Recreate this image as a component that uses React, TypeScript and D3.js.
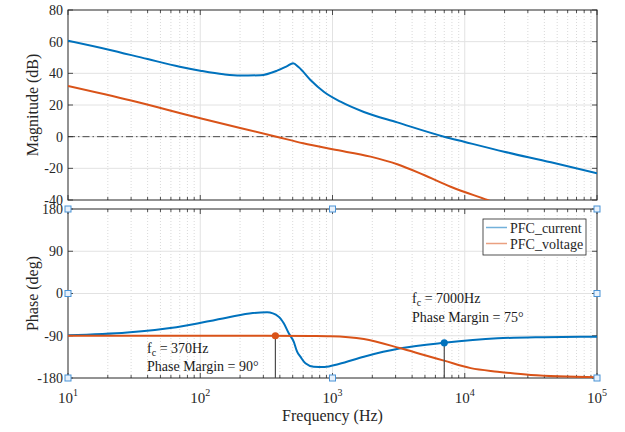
import React from 'react';
import * as d3 from 'd3';

// Axis ticks
const freqTicks = [10, 100, 1000, 10000, 100000];
const freqExponents = ['1', '2', '3', '4', '5'];
const magTicks = [80, 60, 40, 20, 0, -20, -40];
const phaseTicks = [180, 90, 0, -90, -180];

const seriesNames = ['PFC_current', 'PFC_voltage'];

// PFC current loop: magnitude (dB)
const currentMagFreq = [10, 20, 40, 70, 100, 150, 200, 285, 381, 454, 503, 556, 681, 859, 1150, 1727, 3090, 6970, 9880, 19860, 44900, 100000];
const currentMagDb = [60.6, 55.1, 49.0, 44.2, 41.7, 39.4, 38.6, 38.8, 41.7, 44.6, 46.4, 43.8, 35.8, 28.4, 22.1, 15.6, 9.0, 0, -3.2, -9.5, -16.2, -23.2];

// PFC voltage loop: magnitude (dB)
const voltageMagFreq = [10, 30, 100, 377, 600, 1000, 1941, 3090, 4920, 7830, 14860, 20000];
const voltageMagDb = [32.0, 22.8, 11.6, 0, -4.2, -8.0, -12.6, -17.4, -24.2, -31.6, -40, -44];

// PFC current loop: phase (deg)
const currentPhFreq = [10, 28, 66, 158, 250, 320, 392, 428, 467, 509, 540, 572, 624, 721, 870, 1117, 1726, 3273, 6970, 17700, 40000, 100000];
const currentPhDeg = [-89, -83, -72, -51.5, -41.5, -40, -49.4, -63.5, -84.8, -102.7, -124, -134.6, -148.7, -156, -156.5, -150, -134.6, -116.8, -105, -95.5, -93, -92];

// PFC voltage loop: phase (deg)
const voltagePhFreq = [10, 300, 700, 966, 1726, 3273, 4920, 6970, 11100, 17700, 31600, 100000];
const voltagePhDeg = [-90, -90, -90.5, -91, -97, -116.8, -131, -143, -159, -166.5, -173.6, -178.5];

// Crossover annotations
const crossFreq = [370, 7000];
const crossPhase = [-90, -105];
const crossLabel = ['370Hz', '7000Hz'];
const marginLabel = ['Phase Margin = 90°', 'Phase Margin = 75°'];

const BLUE = '#0072BD';
const ORANGE = '#D95319';
const AXIS = '#262626';
const FONT = "'Liberation Serif', 'Times New Roman', serif";

const W = 625;
const H = 432;
const L = 68;
const R = 597;
const MAG_TOP = 10;
const MAG_BOT = 200;
const PH_TOP = 209;
const PH_BOT = 378;

const x = d3.scaleLog().domain([10, 100000]).range([L, R]);
const yMag = d3.scaleLinear().domain([-40, 80]).range([MAG_BOT, MAG_TOP]);
const yPh = d3.scaleLinear().domain([-180, 180]).range([PH_BOT, PH_TOP]);

const minorFreqs: number[] = [];
[10, 100, 1000, 10000].forEach((d) => {
  for (let m = 2; m <= 9; m++) minorFreqs.push(d * m);
});

function pathFor(fs: number[], vs: number[], y: d3.ScaleLinear<number, number>) {
  const pts = fs.map((f, i) => [f, vs[i]] as [number, number]);
  return d3
    .line<[number, number]>()
    .x((d) => x(d[0]))
    .y((d) => y(d[1]))
    .curve(d3.curveMonotoneX)(pts) as string;
}

function Frame({ top, bottom, yScale, yTicks, dashZero }: any) {
  return (
    <g>
      {/* grid */}
      {minorFreqs.map((f) => (
        <line key={'mg' + f} x1={x(f)} x2={x(f)} y1={top} y2={bottom} stroke="#cfcfcf" strokeWidth={0.8} strokeDasharray="1,2" />
      ))}
      {freqTicks.slice(1, -1).map((f) => (
        <line key={'Mg' + f} x1={x(f)} x2={x(f)} y1={top} y2={bottom} stroke="#e2e2e2" strokeWidth={1} />
      ))}
      {yTicks.slice(1, -1).map((v: number) => (
        <line key={'hg' + v} x1={L} x2={R} y1={yScale(v)} y2={yScale(v)} stroke="#e2e2e2" strokeWidth={1} />
      ))}
      {dashZero && (
        <line x1={L} x2={R} y1={yScale(0)} y2={yScale(0)} stroke="#3a3a3a" strokeWidth={0.9} strokeDasharray="7,3,1.5,3" />
      )}
      {/* ticks */}
      {minorFreqs.map((f) => (
        <g key={'mt' + f}>
          <line x1={x(f)} x2={x(f)} y1={top} y2={top + 3} stroke={AXIS} strokeWidth={0.8} />
          <line x1={x(f)} x2={x(f)} y1={bottom} y2={bottom - 3} stroke={AXIS} strokeWidth={0.8} />
        </g>
      ))}
      {freqTicks.map((f) => (
        <g key={'Mt' + f}>
          <line x1={x(f)} x2={x(f)} y1={top} y2={top + 5} stroke={AXIS} strokeWidth={0.8} />
          <line x1={x(f)} x2={x(f)} y1={bottom} y2={bottom - 5} stroke={AXIS} strokeWidth={0.8} />
        </g>
      ))}
      {yTicks.map((v: number) => (
        <g key={'yt' + v}>
          <line x1={L} x2={L + 5} y1={yScale(v)} y2={yScale(v)} stroke={AXIS} strokeWidth={0.8} />
          <line x1={R} x2={R - 5} y1={yScale(v)} y2={yScale(v)} stroke={AXIS} strokeWidth={0.8} />
          <text x={L - 5} y={yScale(v)} dy="0.35em" textAnchor="end" fontSize={14} fontFamily={FONT} fill={AXIS}>
            {v}
          </text>
        </g>
      ))}
      <rect x={L} y={top} width={R - L} height={bottom - top} fill="none" stroke={AXIS} strokeWidth={1} />
    </g>
  );
}

export default function App() {
  const handleXs = [10, 1000, 100000];
  const handleYs = [180, 0, -180];
  const handles: [number, number][] = [];
  handleXs.forEach((f, i) =>
    handleYs.forEach((p, j) => {
      if (!(i === 1 && j === 1)) handles.push([x(f), yPh(p)]);
    })
  );

  return (
    <svg width={W} height={H} style={{ position: 'absolute', left: 0, top: 0, background: '#fff' }} fontFamily={FONT}>
      <defs>
        <clipPath id="magClip">
          <rect x={L} y={MAG_TOP} width={R - L} height={MAG_BOT - MAG_TOP} />
        </clipPath>
        <clipPath id="phClip">
          <rect x={L} y={PH_TOP} width={R - L} height={PH_BOT - PH_TOP} />
        </clipPath>
      </defs>
      <rect width={W} height={H} fill="#fff" />

      {/* Magnitude */}
      <Frame top={MAG_TOP} bottom={MAG_BOT} yScale={yMag} yTicks={magTicks} dashZero />
      <g clipPath="url(#magClip)" fill="none" strokeWidth={2} strokeLinejoin="round">
        <path d={pathFor(currentMagFreq, currentMagDb, yMag)} stroke={BLUE} />
        <path d={pathFor(voltageMagFreq, voltageMagDb, yMag)} stroke={ORANGE} />
      </g>
      <text transform={`translate(38,${(MAG_TOP + MAG_BOT) / 2}) rotate(-90)`} textAnchor="middle" fontSize={16} fill={AXIS}>
        Magnitude (dB)
      </text>

      {/* Phase */}
      <Frame top={PH_TOP} bottom={PH_BOT} yScale={yPh} yTicks={phaseTicks} />
      <g clipPath="url(#phClip)" fill="none" strokeWidth={2} strokeLinejoin="round">
        <path d={pathFor(currentPhFreq, currentPhDeg, yPh)} stroke={BLUE} />
        <path d={pathFor(voltagePhFreq, voltagePhDeg, yPh)} stroke={ORANGE} />
      </g>
      <text transform={`translate(38,${(PH_TOP + PH_BOT) / 2}) rotate(-90)`} textAnchor="middle" fontSize={16} fill={AXIS}>
        Phase (deg)
      </text>

      {/* crossover markers */}
      {crossFreq.map((f, i) => (
        <g key={'cx' + i}>
          <line x1={x(f)} x2={x(f)} y1={yPh(crossPhase[i])} y2={PH_BOT} stroke="#4d4d4d" strokeWidth={1.2} />
          <circle cx={x(f)} cy={yPh(crossPhase[i])} r={3.6} fill={i === 0 ? ORANGE : BLUE} />
        </g>
      ))}
      {[
        [147, 353, 371],
        [412, 303, 322],
      ].map(([tx, y1, y2], i) => (
        <g key={'an' + i} fontSize={14} fill="#1a1a1a">
          <text x={tx} y={y1}>
            f<tspan fontSize={10} dy={3}>c</tspan>
            <tspan dy={-3}> = {crossLabel[i]}</tspan>
          </text>
          <text x={tx} y={y2}>{marginLabel[i]}</text>
        </g>
      ))}

      {/* frequency axis labels */}
      {freqTicks.map((f, i) => (
        <text key={'xl' + f} x={x(f)} y={403} textAnchor="middle" fontSize={15} fill={AXIS}>
          10<tspan fontSize={10} dy={-7}>{freqExponents[i]}</tspan>
        </text>
      ))}
      <text x={(L + R) / 2} y={421} textAnchor="middle" fontSize={16} fill={AXIS}>
        Frequency (Hz)
      </text>

      {/* legend */}
      <g>
        <rect x={483} y={219} width={103} height={36} fill="#fff" stroke={AXIS} strokeWidth={0.8} />
        {seriesNames.map((n, i) => (
          <g key={n}>
            <line x1={486} x2={507} y1={227.5 + i * 16} y2={227.5 + i * 16} stroke={i === 0 ? BLUE : ORANGE} strokeWidth={1.5} opacity={0.55} />
            <text x={510} y={232.5 + i * 16} fontSize={14} fill={AXIS}>
              {n}
            </text>
          </g>
        ))}
      </g>

      {/* axes selection handles */}
      {handles.map(([hx, hy], i) => (
        <rect key={'h' + i} x={hx - 3} y={hy - 3} width={6} height={6} fill="#e8f1fb" stroke="#4a93d6" strokeWidth={1} />
      ))}
    </svg>
  );
}
